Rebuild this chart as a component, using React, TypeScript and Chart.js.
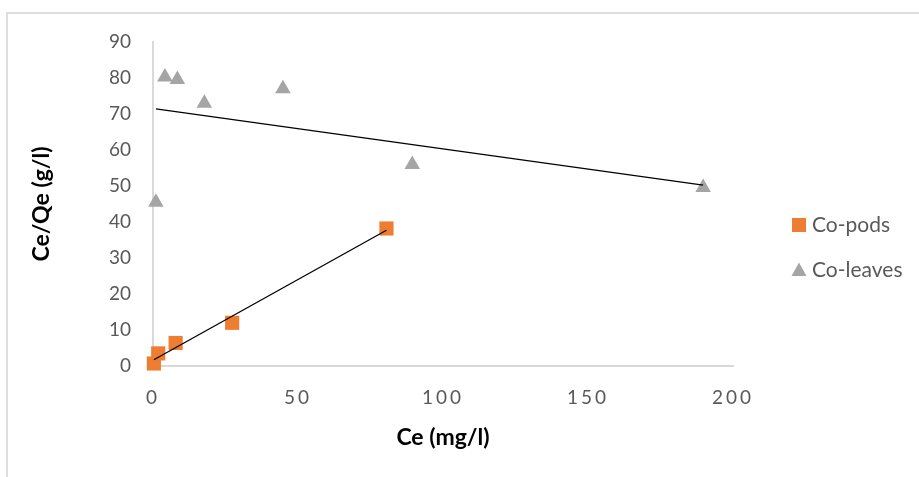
import React, { useEffect, useRef } from "react";
import { Chart, registerables } from "chart.js";

Chart.register(...registerables);

// ---- data ----
const seriesNames = ["Co-pods", "Co-leaves"];
const podsCe = [0.3, 1.8, 7.8, 27.3, 80.5];
const podsRatio = [0.7, 3.5, 6.4, 12.0, 38.2];
const leavesCe = [1, 4.1, 8.4, 17.7, 44.8, 89.4, 189.7];
const leavesRatio = [45.5, 80.3, 79.6, 73.0, 77.0, 56.0, 49.6];
const xTicks = [0, 50, 100, 150, 200];
const yTicks = [0, 10, 20, 30, 40, 50, 60, 70, 80, 90];
const xTitle = "Ce (mg/l)";
const yTitle = "Ce/Qe (g/l)";

const ORANGE = "#ED7D31";
const GREY = "#A5A5A5";
const FONT = "Lato, 'Open Sans', sans-serif";

// least-squares trend line over the range of the data (as Excel's linear trendline)
function trend(xs: number[], ys: number[]) {
  const n = xs.length;
  const mx = xs.reduce((a, b) => a + b, 0) / n;
  const my = ys.reduce((a, b) => a + b, 0) / n;
  let sxy = 0;
  let sxx = 0;
  for (let i = 0; i < n; i++) {
    sxy += (xs[i] - mx) * (ys[i] - my);
    sxx += (xs[i] - mx) * (xs[i] - mx);
  }
  const b = sxy / sxx;
  const a = my - b * mx;
  const lo = Math.min(...xs);
  const hi = Math.max(...xs);
  return [
    { x: lo, y: a + b * lo },
    { x: hi, y: a + b * hi },
  ];
}

const legendPlugin = {
  id: "customLegend",
  afterDraw(chart: any) {
    const ctx = chart.ctx;
    const x0 = 799;
    const textX = 812;
    const rows = [
      { y: 225, name: seriesNames[0], color: ORANGE, shape: "rect" },
      { y: 270, name: seriesNames[1], color: GREY, shape: "tri" },
    ];
    ctx.save();
    ctx.font = `21px ${FONT}`;
    ctx.textBaseline = "middle";
    ctx.textAlign = "left";
    for (const r of rows) {
      ctx.fillStyle = r.color;
      if (r.shape === "rect") {
        ctx.fillRect(x0 - 7, r.y - 7, 14, 14);
      } else {
        ctx.beginPath();
        ctx.moveTo(x0, r.y - 7.5);
        ctx.lineTo(x0 + 7.5, r.y + 6);
        ctx.lineTo(x0 - 7.5, r.y + 6);
        ctx.closePath();
        ctx.fill();
      }
      ctx.fillStyle = "#595959";
      ctx.fillText(r.name, textX, r.y);
    }
    ctx.restore();
  },
};

const spacingPlugin = {
  id: "xTickSpacing",
  afterUpdate(chart: any) {
    const s = chart.scales.x;
    if (s && !s.__wrapped) {
      const orig = s.drawLabels.bind(s);
      s.drawLabels = (ca: any) => {
        const ctx = chart.ctx;
        ctx.save();
        (ctx as any).letterSpacing = "3px";
        orig(ca);
        ctx.restore();
      };
      s.__wrapped = true;
    }
  },
};

export default function App() {
  const ref = useRef<HTMLCanvasElement | null>(null);

  useEffect(() => {
    if (!ref.current) return;
    const pods = podsCe.map((x, i) => ({ x, y: podsRatio[i] }));
    const leaves = leavesCe.map((x, i) => ({ x, y: leavesRatio[i] }));
    const chart = new Chart(ref.current, {
      type: "scatter",
      data: {
        datasets: [
          {
            type: "line",
            label: "trend pods",
            data: trend(podsCe, podsRatio),
            borderColor: "#000000",
            borderWidth: 1.3,
            pointRadius: 0,
            fill: false,
            order: 0,
          } as any,
          {
            type: "line",
            label: "trend leaves",
            data: trend(leavesCe, leavesRatio),
            borderColor: "#000000",
            borderWidth: 1.3,
            pointRadius: 0,
            fill: false,
            order: 0,
          } as any,
          {
            label: seriesNames[0],
            data: pods,
            pointStyle: "rect",
            pointRadius: 10,
            backgroundColor: ORANGE,
            borderColor: ORANGE,
            borderWidth: 0,
            clip: false,
            order: 1,
          },
          {
            label: seriesNames[1],
            data: leaves,
            pointStyle: "triangle",
            pointRadius: 9,
            backgroundColor: GREY,
            borderColor: GREY,
            borderWidth: 0,
            clip: false,
            order: 1,
          },
        ],
      },
      options: {
        animation: false,
        responsive: false,
        events: [],
        layout: { padding: { left: 0, top: 42, right: 186, bottom: 0 } },
        plugins: {
          legend: { display: false },
          tooltip: { enabled: false },
        },
        scales: {
          x: {
            type: "linear",
            min: 0,
            max: 200,
            afterBuildTicks: (s: any) => {
              s.ticks = xTicks.map((v) => ({ value: v }));
            },
            afterFit: (s: any) => {
              s.height = 111;
            },
            grid: { display: false, drawTicks: false },
            border: { display: true, color: "#D9D9D9", width: 2 },
            ticks: {
              padding: 20,
              color: "#595959",
              font: { family: FONT, size: 19 },
              maxRotation: 0,
            },
            title: {
              display: true,
              text: xTitle,
              color: "#000000",
              font: { family: FONT, size: 23, weight: "bold" },
              padding: { top: 0, bottom: 26 },
            },
          },
          y: {
            type: "linear",
            min: 0,
            max: 90,
            afterBuildTicks: (s: any) => {
              s.ticks = yTicks.map((v) => ({ value: v }));
            },
            afterFit: (s: any) => {
              s.width = 153;
            },
            grid: { display: false, drawTicks: false },
            border: { display: true, color: "#D9D9D9", width: 2 },
            ticks: {
              padding: 22,
              color: "#595959",
              font: { family: FONT, size: 19 },
            },
            title: {
              display: true,
              text: yTitle,
              color: "#000000",
              font: { family: FONT, size: 23, weight: "bold" },
              padding: { top: 28, bottom: 0 },
            },
          },
        },
      },
      plugins: [legendPlugin, spacingPlugin],
    } as any);
    return () => chart.destroy();
  }, []);

  return (
    <div style={{ position: "fixed", left: 0, top: 0, width: 919, height: 477, background: "#fff", overflow: "hidden" }}>
      <div
        style={{
          position: "absolute",
          left: 6,
          top: 12,
          width: 930,
          height: 480,
          borderTop: "2px solid #DEDEDE",
          borderLeft: "2px solid #DEDEDE",
          boxSizing: "border-box",
        }}
      />
      <canvas ref={ref} width={919} height={477} style={{ position: "absolute", left: 0, top: 0 }} />
    </div>
  );
}
